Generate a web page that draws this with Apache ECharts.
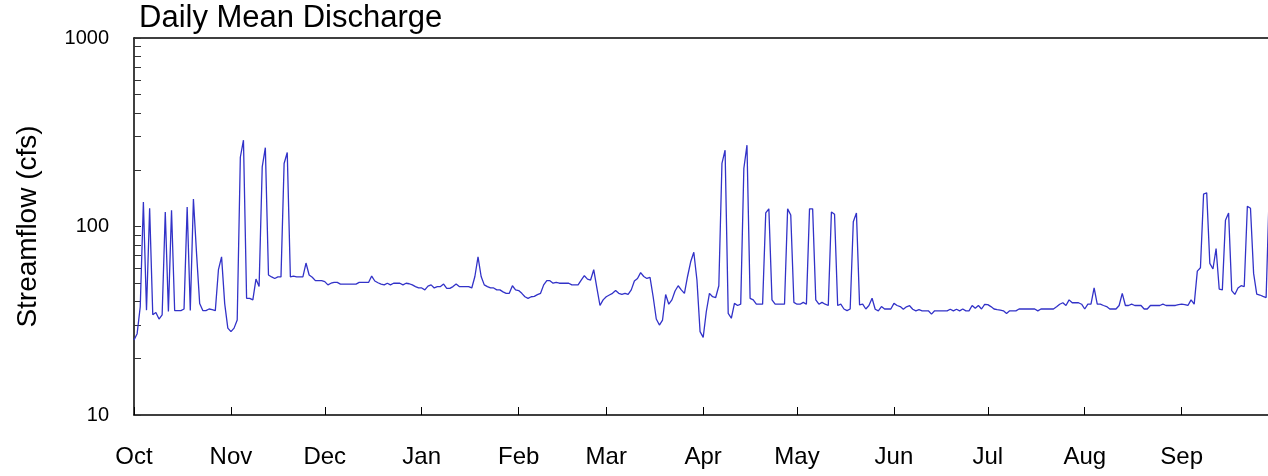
<!DOCTYPE html>
<html>
<head>
<meta charset="utf-8">
<script src="https://cdn.jsdelivr.net/npm/echarts@6/dist/echarts.min.js"></script>
<style>
html,body{margin:0;padding:0;background:#fff;}
#chart{width:1268px;height:476px;}
</style>
</head>
<body>
<div id="chart"></div>
<script>
// Month tick labels and the day offset (from Oct 1) at which each month starts
const monthLabels = ['Oct','Nov','Dec','Jan','Feb','Mar','Apr','May','Jun','Jul','Aug','Sep'];
const monthStartDays = [0,31,61,92,123,151,182,212,243,273,304,335];
// y-axis tick values (log scale)
const yTickValues = [10,20,30,40,50,60,70,80,90,100,200,300,400,500,600,700,800,900,1000];
const yLabelValues = [10,100,1000];
// Daily mean discharge (cfs), one value per day starting Oct 1
const flow = [
  25, 27, 37.6, 135, 36, 125, 34, 35, 32.3, 34,
  119.5, 35.4, 122, 35.8, 35.8, 35.8, 36.5, 127, 35.8, 140,
  72, 39, 35.8, 35.8, 36.5, 36.2, 35.8, 59, 69, 39,
  28.9, 27.7, 28.9, 31.9, 233, 287, 41.6, 41.6, 40.8, 52.6,
  48, 207, 262, 55.3, 54, 53, 54, 54, 216, 247,
  54, 54.5, 54, 54, 54, 64, 55.3, 53.8, 51.6, 51.6,
  51.6, 51, 49, 50, 50.5, 50.5, 49.5, 49.5, 49.5, 49.5,
  49.5, 49.5, 50.5, 50.5, 50.5, 50.5, 54.6, 51.4, 50.3, 49.5,
  49, 50, 49, 50, 50, 50, 49, 50, 49.7, 49,
  48, 47.2, 47.2, 46.1, 48.3, 49, 47.2, 48, 48, 49.5,
  47, 47, 48, 49.5, 48, 48, 48, 48, 47.2, 54.3,
  69, 54.3, 49, 48, 47.2, 47.2, 46.1, 46.1, 45, 44.2,
  44.2, 48.5, 46.1, 45.7, 44.2, 42.4, 41.6, 42.4, 42.6, 43.5,
  44.2, 49, 51.6, 51.6, 50, 50.5, 50, 50, 50, 50,
  49, 49, 49, 52, 54.8, 52.6, 52, 59, 47.2, 38.1,
  40.8, 42.4, 43.3, 44.2, 45.7, 44.2, 43.6, 44.2, 43.6, 46.1,
  51.4, 53, 56.9, 54.3, 53, 53.7, 42.4, 32.3, 30, 31.9,
  43.6, 38.7, 40.8, 45.5, 48.5, 46.1, 44.2, 54.3, 65, 73,
  52, 27.7, 25.8, 35.4, 44.2, 42.4, 42, 48.5, 216, 254,
  34.6, 32.6, 39.1, 38.1, 38.7, 203, 270, 41.6, 40.8, 38.7,
  38.7, 38.7, 118, 124, 40.8, 38.7, 38.7, 38.7, 38.7, 124,
  115, 39.6, 38.7, 38.7, 39.6, 38.7, 124, 124, 40.8, 38.7,
  39.6, 38.7, 38.1, 119.5, 116, 38.1, 38.7, 36.5, 35.8, 36.5,
  106, 118, 38.4, 38.7, 36.5, 38.1, 41.6, 36.4, 35.7, 37.6,
  36.5, 36.5, 36.5, 39.1, 38.1, 37.6, 36.4, 37.5, 38, 36.4,
  35.7, 36.2, 35.7, 35.7, 35.7, 34.3, 35.7, 35.7, 35.7, 35.7,
  35.7, 36.4, 35.7, 36.4, 35.7, 36.5, 35.7, 35.7, 38.1, 36.8,
  38.1, 36.5, 38.6, 38.5, 37.6, 36.5, 36.2, 36, 35.7, 34.6,
  35.7, 35.7, 35.7, 36.5, 36.5, 36.5, 36.5, 36.5, 36.5, 35.7,
  36.5, 36.5, 36.5, 36.5, 36.5, 37.5, 38.7, 39.4, 38.1, 40.8,
  39.4, 39.4, 39.4, 38.7, 36.5, 38.7, 38.7, 47.2, 38.7, 38.7,
  38.1, 37.6, 36.5, 36.5, 36.5, 38.1, 44.2, 38.1, 38.1, 38.7,
  38.1, 38.1, 38.1, 36.5, 36.5, 38.1, 38.1, 38.1, 38.1, 38.7,
  38.1, 38.1, 38.1, 38.1, 38.5, 38.7, 38.5, 38.1, 40.8, 38.7,
  58, 60.4, 148.5, 151, 63.7, 59.5, 76.4, 46.6, 46.1, 108,
  118, 45.7, 43.6, 47.2, 48.5, 48, 128, 125, 56.4, 43.8,
  43.3, 42.6, 42, 155, 150
];

const seriesData = flow.map((v, i) => [i, v]);
const font = "'Liberation Sans', Arial, sans-serif";
const xMax = 362.6; // visible part of the water year

const chart = echarts.init(document.getElementById('chart'), null, {renderer: 'canvas'});
chart.setOption({
  animation: false,
  backgroundColor: '#ffffff',
  title: {
    text: 'Daily Mean Discharge',
    left: 139,
    top: 3,
    padding: 0,
    textStyle: {fontFamily: font, fontSize: 31, fontWeight: 'normal', color: '#000'}
  },
  grid: {left: 134, right: 0, top: 38, bottom: 61, containLabel: false},
  xAxis: [{
    type: 'value',
    min: 0,
    max: xMax,
    axisLine: {show: true, lineStyle: {color: '#000', width: 1.5}},
    axisTick: {show: true, inside: true, length: 8, customValues: monthStartDays, lineStyle: {color: '#000', width: 1}},
    axisLabel: {
      show: true, margin: 30, customValues: monthStartDays,
      fontFamily: font, fontSize: 24, color: '#000',
      formatter: v => monthLabels[monthStartDays.indexOf(Math.round(v))] || ''
    },
    splitLine: {show: false}
  }, {
    type: 'value',
    position: 'top',
    min: 0,
    max: xMax,
    axisLine: {show: true, onZero: false, lineStyle: {color: '#000', width: 1.5}},
    axisTick: {show: false},
    axisLabel: {show: false},
    splitLine: {show: false}
  }],
  yAxis: {
    type: 'log',
    logBase: 10,
    min: 10,
    max: 1000,
    name: 'Streamflow (cfs)',
    nameLocation: 'middle',
    nameGap: 92,
    nameTextStyle: {fontFamily: font, fontSize: 28, color: '#000'},
    axisLine: {show: true, lineStyle: {color: '#000', width: 1.5}},
    axisTick: {show: true, inside: true, length: 7, customValues: yTickValues, lineStyle: {color: '#333', width: 1}},
    axisLabel: {
      show: true, margin: 25, customValues: yLabelValues,
      fontFamily: font, fontSize: 20, color: '#000',
      formatter: v => String(Math.round(v))
    },
    splitLine: {show: false},
    minorTick: {show: false}
  },
  series: [{
    type: 'line',
    data: seriesData,
    xAxisIndex: 0,
    showSymbol: false,
    symbol: 'none',
    clip: true,
    lineStyle: {color: '#3232c8', width: 1.3},
    emphasis: {disabled: true}
  }]
});
</script>
</body>
</html>
